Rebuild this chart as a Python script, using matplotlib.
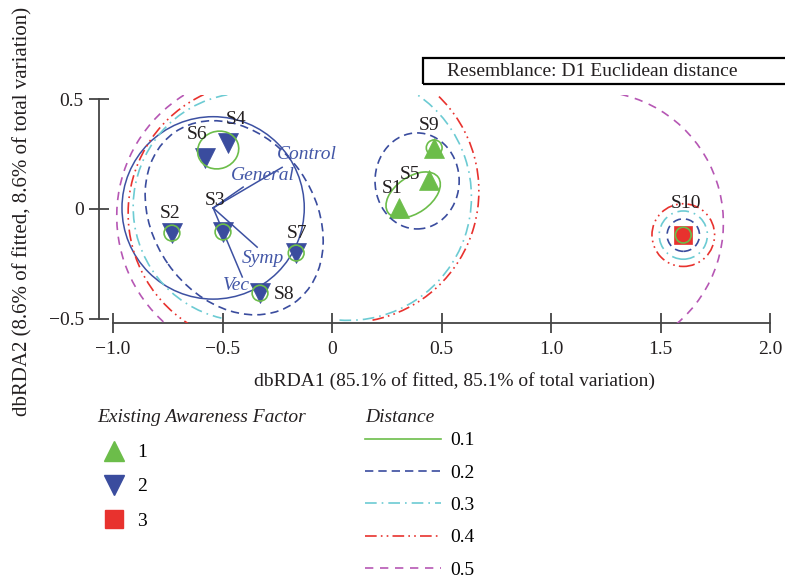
import matplotlib.pyplot as plt
from matplotlib.patches import Ellipse, Arc, Circle, Rectangle
from matplotlib.lines import Line2D

plt.rcParams["font.family"] = ["Liberation Serif", "DejaVu Serif"]
plt.rcParams["font.size"] = 14

# dbRDA sample scores
samples = ["S1", "S2", "S3", "S4", "S5", "S6", "S7", "S8", "S9", "S10"]
dbrda1 = [0.306, -0.731, -0.498, -0.475, 0.443, -0.580, -0.164, -0.329, 0.466, 1.603]
dbrda2 = [0.005, -0.110, -0.105, 0.301, 0.132, 0.233, -0.201, -0.384, 0.279, -0.119]
factor = [1, 2, 2, 2, 1, 2, 2, 2, 1, 3]

# vector overlay
vec_names = ["Control", "General", "Symp", "Vec"]
vec_x = [-0.228, -0.406, -0.342, -0.41]
vec_y = [0.19, 0.10, -0.174, -0.31]
vec_origin = (-0.543, 0.005)
vec_radius = 0.416

# cluster contours
levels = ["0.1", "0.2", "0.3", "0.4", "0.5"]
# single-sample contours: radius at each level
single_radius = [0.036, 0.074, 0.11, 0.143]
single_members = [["S2", "S3", "S7", "S8", "S9", "S10"], ["S10"], ["S10"], ["S10"], []]
# closed group contours
group_level = [0, 0, 1, 1]
group_cx = [-0.52, 0.37, -0.447, 0.388]
group_cy = [0.269, 0.064, -0.04, 0.128]
group_w = [0.19, 0.28, 0.95, 0.384]
group_h = [0.17, 0.165, 0.736, 0.438]
group_ang = [20, 35, -55, 0]
# open contours crossing the plot edge
arc_level = [2, 3, 4, 2, 3, 4]
arc_cx = [-0.388, -0.333, -0.332, 0.073, 0.070, 1.184]
arc_cy = [0.009, -0.02, -0.033, 0.055, 0.082, -0.064]
arc_r = [0.52, 0.598, 0.651, 0.563, 0.60, 0.602]
arc_t1 = [100, 115, 122, -94, -79, -50]
arc_t2 = [257, 237, 229, 56, 47, 79]

green = "#6cbd4a"
navy = "#3a4c9e"
cyan = "#6ccbd3"
red = "#e8322e"
magenta = "#b657b4"
level_colors = [green, navy, cyan, red, magenta]
level_styles = ["-", (0, (5, 3)), (0, (7, 3, 1, 3)), (0, (7, 2.5, 1, 2.5, 1, 2.5)), (0, (5, 4))]
factor_markers = {1: "^", 2: "v", 3: "s"}
factor_colors = {1: green, 2: navy, 3: red}
factor_sizes = {1: 15, 2: 15, 3: 12.5}
text_col = "#231f20"

fig = plt.figure(figsize=(7.85, 5.82), dpi=100)
ax = fig.add_axes([0.1261, 0.445, 0.8663, 0.3918])
ax.set_xlim(-1.064, 2.04)
ax.set_ylim(-0.52, 0.52)

# points
for f in (1, 2, 3):
    xs = [a for a, g in zip(dbrda1, factor) if g == f]
    ys = [b for b, g in zip(dbrda2, factor) if g == f]
    ax.plot(xs, ys, ls="none", marker=factor_markers[f], color=factor_colors[f],
            markersize=factor_sizes[f], markeredgecolor=factor_colors[f],
            markeredgewidth=0.5, zorder=3)

lw = 1.2
for i, members in enumerate(single_members):
    for s in members:
        k = samples.index(s)
        ax.add_patch(Circle((dbrda1[k], dbrda2[k]), single_radius[i], fill=False,
                            ec=level_colors[i], ls=level_styles[i], lw=lw, zorder=4))
for i in range(len(group_level)):
    lv = group_level[i]
    ax.add_patch(Ellipse((group_cx[i], group_cy[i]), group_w[i], group_h[i], angle=group_ang[i],
                         fill=False, ec=level_colors[lv], ls=level_styles[lv], lw=lw, zorder=4))
for i in range(len(arc_level)):
    lv = arc_level[i]
    ax.add_patch(Arc((arc_cx[i], arc_cy[i]), 2 * arc_r[i], 2 * arc_r[i], theta1=arc_t1[i],
                     theta2=arc_t2[i], ec=level_colors[lv], ls=level_styles[lv], lw=lw, zorder=4))

# vectors
vec_col = "#3d51a2"
ax.add_patch(Circle(vec_origin, vec_radius, fill=False, ec=vec_col, lw=1.1, zorder=2))
vec_offsets = [(18, 9), (14, 8), (4, -8), (-4, -6)]
for name, vx, vy, off in zip(vec_names, vec_x, vec_y, vec_offsets):
    ax.plot([vec_origin[0], vx], [vec_origin[1], vy], color=vec_col, lw=1.1, zorder=2)
    ax.annotate(name, (vx, vy), xytext=off, textcoords="offset points", ha="center",
                va="center", color="#4357a7", style="italic", fontsize=14, zorder=5)

# sample labels
lab_offsets = {"S1": (-5, 14), "S2": (-1, 14), "S3": (-6, 23), "S4": (6, 17), "S5": (-14, 4),
               "S6": (-6, 17), "S7": (1, 14), "S8": (17, -1), "S9": (-4, 16), "S10": (2, 23)}
for s, a, b in zip(samples, dbrda1, dbrda2):
    ax.annotate(s, (a, b), xytext=lab_offsets[s], textcoords="offset points", ha="center",
                va="center", color=text_col, fontsize=14, zorder=5)

# axes styling
for side in ("top", "right"):
    ax.spines[side].set_visible(False)
for side in ("left", "bottom"):
    ax.spines[side].set_color("#444444")
    ax.spines[side].set_linewidth(1.3)
ax.spines["left"].set_bounds(-0.5, 0.5)
ax.spines["bottom"].set_bounds(-1.0, 2.0)
ax.set_xticks([-1.0, -0.5, 0, 0.5, 1.0, 1.5, 2.0])
ax.set_xticklabels(["\u22121.0", "\u22120.5", "0", "0.5", "1.0", "1.5", "2.0"])
ax.set_yticks([-0.5, 0, 0.5])
ax.set_yticklabels(["\u22120.5", "0", "0.5"])
ax.tick_params(axis="both", direction="inout", length=14, width=1.3, color="#444444",
               labelsize=14, labelcolor=text_col)
ax.tick_params(axis="x", pad=6)
ax.tick_params(axis="y", pad=4)

ax.set_xlabel("dbRDA1 (85.1% of fitted, 85.1% of total variation)", fontsize=14, color=text_col)
ax.xaxis.set_label_coords(0.523, -0.254)
ax.xaxis.label.set_va("center")
ax.set_ylabel("dbRDA2 (8.6% of fitted, 8.6% of total variation)", fontsize=15, color=text_col)
ax.yaxis.set_label_coords(-0.112, 0.49)
ax.yaxis.label.set_va("center")

# resemblance box
fig.patches.append(Rectangle((423 / 785, 1 - 84 / 582), 400 / 785, 26 / 582, transform=fig.transFigure,
                             fill=False, ec="black", lw=1.6))
fig.text(447 / 785, 1 - 71 / 582, "Resemblance: D1 Euclidean distance", ha="left", va="center",
         fontsize=14, color=text_col)

# legends
fig.text(97 / 785, 1 - 417 / 582, "Existing Awareness Factor", ha="left", va="center",
         style="italic", fontsize=14, color=text_col)
f_handles = [Line2D([], [], ls="none", marker=factor_markers[f], color=factor_colors[f],
                    markersize=factor_sizes[f]) for f in (1, 2, 3)]
fig.legend(f_handles, ["1", "2", "3"], loc="upper left", bbox_to_anchor=(87 / 785, 1 - 434 / 582),
           frameon=False, handlelength=1.8, handletextpad=0.3, labelspacing=0.85, borderpad=0,
           fontsize=14)

fig.text(365 / 785, 1 - 417 / 582, "Distance", ha="left", va="center",
         style="italic", fontsize=14, color=text_col)
d_handles = [Line2D([], [], color=c, ls=s, lw=lw) for c, s in zip(level_colors, level_styles)]
fig.legend(d_handles, levels, loc="upper left", bbox_to_anchor=(355 / 785, 1 - 422 / 582),
           frameon=False, handlelength=3.9, handletextpad=0.5, labelspacing=0.76, borderpad=0,
           fontsize=14)

fig.savefig("out.png", dpi=100)
